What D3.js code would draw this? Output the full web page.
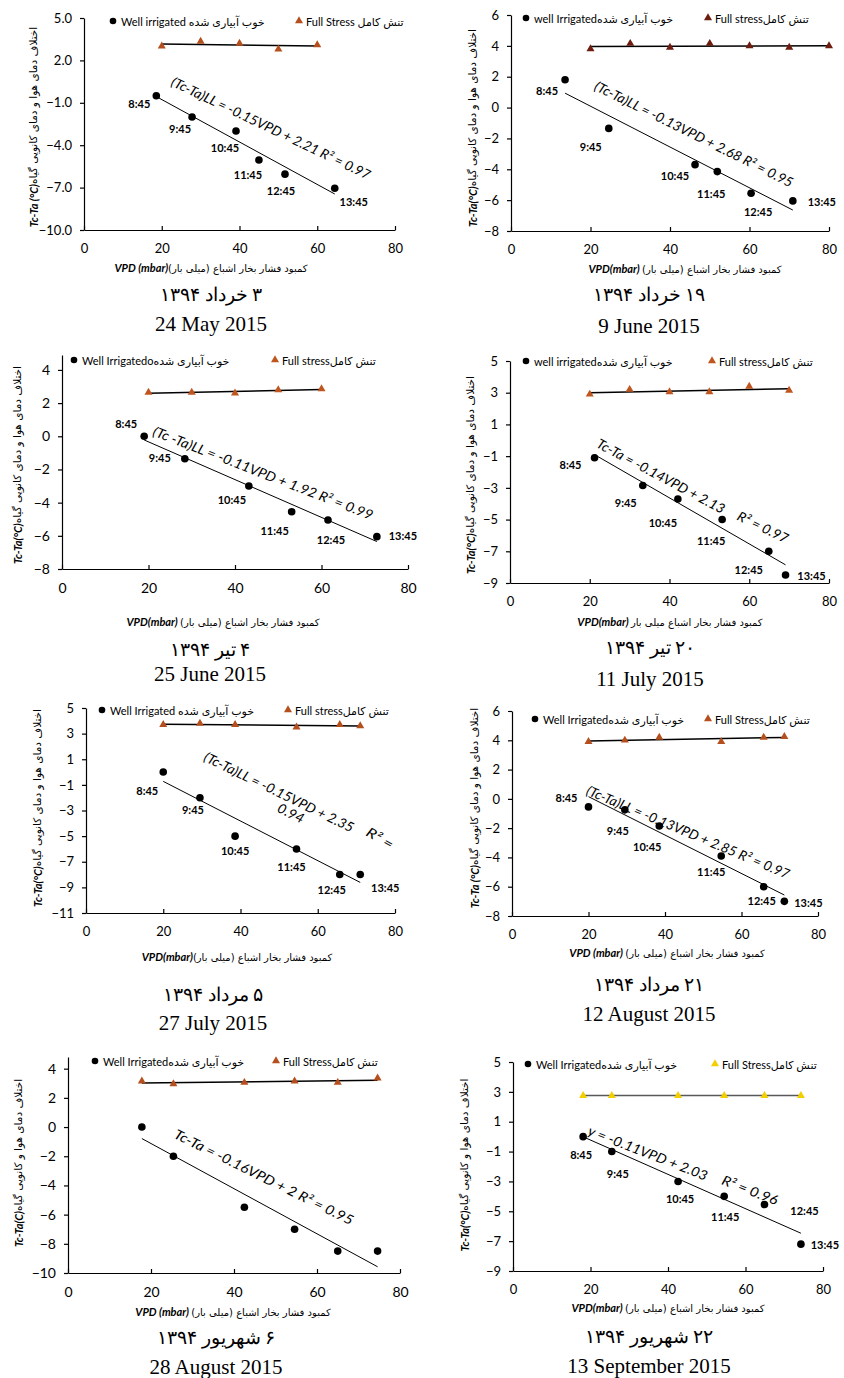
<!DOCTYPE html>
<html>
<head>
<meta charset="utf-8">
<script src="https://cdn.jsdelivr.net/npm/d3@7"></script>
<style>
  body { margin: 0; background: #fff; }
  svg { display: block; }
  text { font-family: Lato, "DejaVu Sans", sans-serif; fill: #000; }
  .fa { font-family: "DejaVu Sans", sans-serif; }
  .date { font-family: "Liberation Serif", "DejaVu Serif", serif; }
  .axis path, .axis line { stroke: #000; stroke-width: 1.2; }
</style>
</head>
<body>
<svg id="fig" width="844" height="1378"></svg>
<script>
'use strict';

// ---- data ----
var times = ['8:45', '9:45', '10:45', '11:45', '12:45', '13:45'];
var vpdTicks = [0, 20, 40, 60, 80];

// 24 May 2015
var vpdMay24 = [18.6, 27.8, 39.1, 45.0, 51.7, 64.5];
var tcMay24 = [-0.5, -2.0, -3.0, -5.05, -6.05, -7.05];
var stressVpdMay24 = [20, 30, 40, 50, 60];
var stressMay24 = [3.0, 3.35, 3.2, 2.8, 3.1];
// 9 June 2015
var vpdJun9 = [13.6, 24.6, 46.3, 51.9, 60.4, 70.9];
var tcJun9 = [1.8, -1.35, -3.7, -4.15, -5.55, -6.05];
var stressVpdJun9 = [20, 30, 40, 50, 60, 70, 80];
var stressJun9 = [3.8, 4.15, 3.9, 4.15, 4.0, 3.9, 4.0];
// 25 June 2015
var vpdJun25 = [19.0, 28.4, 43.2, 53.1, 61.5, 72.8];
var tcJun25 = [0, -1.35, -3.0, -4.55, -5.05, -6.05];
var stressVpdJun25 = [20, 30, 40, 50, 60];
var stressJun25 = [2.65, 2.65, 2.6, 2.8, 2.85];
// 11 July 2015
var vpdJul11 = [21.2, 33.3, 42.1, 53.2, 64.9, 69.1];
var tcJul11 = [-1.1, -2.85, -3.7, -5.0, -7.0, -8.5];
var stressVpdJul11 = [20, 30, 40, 50, 60, 70];
var stressJul11 = [2.9, 3.2, 3.05, 3.05, 3.4, 3.15];
// 27 July 2015
var vpdJul27 = [20.0, 29.5, 38.6, 54.5, 65.7, 71.0];
var tcJul27 = [0, -2, -5, -6, -8, -8];
var stressJul27 = [3.7, 3.8, 3.7, 3.5, 3.7, 3.6];
// 12 August 2015
var vpdAug12 = [20.0, 29.5, 38.5, 54.7, 65.8, 71.2];
var tcAug12 = [-0.55, -0.75, -1.85, -3.9, -6.0, -7.0];
var stressAug12 = [3.9, 4.0, 4.2, 3.9, 4.2, 4.25];
// 28 August 2015
var vpdAug28 = [17.8, 25.4, 42.5, 54.6, 65.0, 74.6];
var tcAug28 = [0, -2, -5.5, -7, -8.5, -8.5];
var stressAug28 = [3.15, 2.95, 3.05, 3.15, 3.05, 3.35];
// 13 September 2015
var vpdSep13 = [18.1, 25.5, 42.6, 54.5, 64.9, 74.3];
var tcSep13 = [0, -1, -3, -4, -4.55, -7.2];
var stressSep13 = [2.75, 2.75, 2.75, 2.75, 2.75, 2.75];

// ---- texts ----
var legendWell = ['Well irrigated خوب آبیاری شده', 'well Irrigatedخوب آبیاری شده', 'Well Irrigatedoخوب آبیاری شده',
  'well irrigatedخوب آبیاری شده', 'Well Irrigated خوب آبیاری شده', 'Well Irrigatedخوب آبیاری شده',
  'Well Irrigatedخوب آبیاری شده', 'Well Irrigatedخوب آبیاری شده'];
var legendStress = ['Full Stress تنش کامل', 'Full stressتنش کامل', 'Full stressتنش کامل', 'Full stressتنش کامل',
  'Full stressتنش کامل', 'Full Stressتنش کامل', 'Full Stressتنش کامل', 'Full Stressتنش کامل'];
var yTitleEn = ['Tc-Ta (°C)', 'Tc-Ta(°C)', 'Tc-Ta(°C)', 'Tc-Ta(°C)', 'Tc-Ta(°C)', 'Tc-Ta (°C)', 'Tc-Ta(C)', 'Tc-Ta(°C)'];
var yTitleFa = ['اختلاف دمای هوا و دمای کانوپی گیاه', 'اختلاف دمای هوا و دمای کانوپی گیاه', 'اختلاف دمای هوا و دمای کانوپی گیاه',
  'اختلاف دمای هوا و دمای کانوپی گیاه', 'اختلاف دمای هوا و دمای کانوپی گیاه', 'اختلاف دمای هوا و دمای کانوپی گیاه',
  'اختلاف دمای هوا و کانوپی گیاه', 'اختلاف دمای هوا و کانوپی گیاه'];
var xTitleEn = ['VPD (mbar)', 'VPD(mbar) ', 'VPD(mbar) ', 'VPD(mbar) ', 'VPD(mbar)', 'VPD (mbar) ', 'VPD (mbar) ', 'VPD(mbar) '];
var xTitleFa = ['کمبود فشار بخار اشباع (میلی بار)', 'کمبود فشار بخار اشباع (میلی بار)', 'کمبود فشار بخار اشباع (میلی بار)',
  'کمبود فشار بخار اشباع میلی بار', 'کمبود فشار بخار  اشباع (میلی بار)', 'کمبود فشار بخار اشباع (میلی بار)',
  'کمبود فشار بخار اشباع (میلی بار)', 'کمبود فشار بخار اشباع (میلی بار)'];
var datesFa = ['۳ خرداد ۱۳۹۴', '۱۹ خرداد ۱۳۹۴', '۴ تیر ۱۳۹۴', '۲۰ تیر ۱۳۹۴', '۵ مرداد ۱۳۹۴', '۲۱ مرداد ۱۳۹۴', '۶ شهریور ۱۳۹۴', '۲۲ شهریور ۱۳۹۴'];
var datesEn = ['24 May 2015', '9 June 2015', '25 June 2015', '11 July 2015', '27 July 2015', '12 August 2015', '28 August 2015', '13 September 2015'];
var equations = [
  ['(Tc-Ta)LL = -0.15VPD + 2.21  R² = 0.97'],
  ['(Tc-Ta)LL = -0.13VPD + 2.68  R² = 0.95'],
  ['(Tc -Ta)LL = -0.11VPD + 1.92 R² = 0.99'],
  ['Tc-Ta = -0.14VPD + 2.13', 'R² = 0.97'],
  ['(Tc-Ta)LL = -0.15VPD + 2.35', 'R² =', '0.94'],
  ['(Tc-Ta)LL = -0.13VPD + 2.85  R² = 0.97'],
  ['Tc-Ta = -0.16VPD + 2   R² = 0.95'],
  ['y = -0.11VPD + 2.03', 'R² = 0.96']
];

// ---- layout of each panel (pixels) ----
var panels = [
  {vpd: vpdMay24, tc: tcMay24, sVpd: stressVpdMay24, s: stressMay24,
   x0: 84, x1: 395, yr: [230, 18], yDom: [-10, 5], yTicks: [-10, -7, -4, -1, 2, 5], yFmt: '.1f', fs: 13,
   leg: [113, 21, 299], tri: '#b5501e',
   lab: [[-17, 8], [-12, 12], [-11, 16], [-11, 14], [-4, 16], [19, 13]],
   eq: [[271, 128, 25.6, 219]], yT: [33, 127], xT: [211, 272], dt: [211, 301, 331]},
  {vpd: vpdJun9, tc: tcJun9, sVpd: stressVpdJun9, s: stressJun9,
   x0: 511, x1: 829, yr: [231, 15], yDom: [-8, 6], yTicks: [-8, -6, -4, -2, 0, 2, 4, 6], yFmt: 'd', fs: 13,
   leg: [526, 18, 708], tri: '#6e1c10',
   lab: [[-18, 11], [-18, 18], [-20, 11], [-6, 22], [7, 18], [29, 1]],
   eq: [[694, 134, 26.5, 220]], yT: [472, 128], xT: [685, 273], dt: [649, 301, 333]},
  {vpd: vpdJun25, tc: tcJun25, sVpd: stressVpdJun25, s: stressJun25,
   x0: 62, x1: 408, yr: [569, 355], yDom: [-8, 4.9], yTicks: [-8, -6, -4, -2, 0, 2, 4], yFmt: 'd', fs: 14,
   leg: [74, 360, 275], tri: '#c0561f',
   lab: [[-18, -13], [-25, -1], [-17, 13], [-17, 19], [3, 19], [26, -1]],
   eq: [[263, 473, 21.2, 235]], yT: [17, 465], xT: [223, 626], dt: [210, 656, 681]},
  {vpd: vpdJul11, tc: tcJul11, sVpd: stressVpdJul11, s: stressJul11,
   x0: 510, x1: 829, yr: [583, 361], yDom: [-9, 5], yTicks: [-9, -7, -5, -3, -1, 1, 3, 5], yFmt: 'd', fs: 13,
   leg: [526, 361, 712], tri: '#c0561f',
   lab: [[-24, 7], [-17, 17], [-15, 24], [-11, 21], [-20, 18], [26, 0]],
   eq: [[661, 476, 28, 143], [763, 527, 26, 55]], yT: [470, 475], xT: [670, 626], dt: [650, 654, 686]},
  {vpd: vpdJul27, tc: tcJul27, sVpd: vpdJul27, s: stressJul27,
   x0: 86, x1: 395, yr: [913, 708], yDom: [-11, 5], yTicks: [-11, -9, -7, -5, -3, -1, 1, 3, 5], yFmt: 'd', fs: 13,
   leg: [102, 710, 288], tri: '#b5501e',
   lab: [[-16, 18], [-7, 12], [0, 14], [-5, 18], [-8, 15], [25, 13]],
   eq: [[279, 792, 26, 165], [380, 838, 30, 29], [291, 813, 26, 28]], yT: [37, 808], xT: [237, 961], dt: [213, 1001, 1030]},
  {vpd: vpdAug12, tc: tcAug12, sVpd: vpdAug12, s: stressAug12,
   x0: 512, x1: 818, yr: [916, 711], yDom: [-8, 6], yTicks: [-8, -6, -4, -2, 0, 2, 4, 6], yFmt: 'd', fs: 13,
   leg: [535, 719, 708], tri: '#b5501e',
   lab: [[-22, -9], [-7, 21], [-12, 21], [-10, 16], [-2, 14], [24, 1]],
   eq: [[688, 832, 22.8, 219]], yT: [474, 808], xT: [667, 957], dt: [649, 991, 1021]},
  {vpd: vpdAug28, tc: tcAug28, sVpd: vpdAug28, s: stressAug28,
   x0: 68, x1: 400, yr: [1273, 1057], yDom: [-10, 4.8], yTicks: [-10, -8, -6, -4, -2, 0, 2, 4], yFmt: 'd', fs: 14,
   leg: [95, 1061, 276], tri: '#b5501e',
   lab: null,
   eq: [[264, 1177, 26.3, 198]], yT: [18, 1163], xT: [233, 1316], dt: [216, 1344, 1374]},
  {vpd: vpdSep13, tc: tcSep13, sVpd: vpdSep13, s: stressSep13,
   x0: 513, x1: 823, yr: [1271, 1062], yDom: [-9, 5], yTicks: [-9, -7, -5, -3, -1, 1, 3, 5], yFmt: 'd', fs: 13,
   leg: [528, 1064, 715], tri: '#f2d000', sLine: '#595959',
   lab: [[-2, 18], [6, 22], [2, 17], [1, 20], [40, 6], [24, 0]],
   eq: [[648, 1153, 21.3, 127], [750, 1190, 21, 59]], yT: [464, 1165], xT: [668, 1312], dt: [649, 1343, 1373]}
];

var svg = d3.select('#fig');
var triangle = d3.symbol().type(d3.symbolTriangle).size(28);

// least squares trend line, like the spreadsheet trendline
function trend(xs, ys) {
  var mx = d3.mean(xs), my = d3.mean(ys), sxy = 0, sxx = 0;
  xs.forEach(function (x, i) { sxy += (x - mx) * (ys[i] - my); sxx += (x - mx) * (x - mx); });
  var b = sxy / sxx, a = my - b * mx;
  var lo = d3.min(xs), hi = d3.max(xs);
  return [[lo, a + b * lo], [hi, a + b * hi]];
}

panels.forEach(function (p, k) {
  var g = svg.append('g').attr('class', 'panel');
  var x = d3.scaleLinear().domain([0, 80]).range([p.x0, p.x1]);
  var y = d3.scaleLinear().domain(p.yDom).range(p.yr);

  // axes
  g.append('g').attr('class', 'axis').attr('transform', 'translate(' + p.x0 + ',0)')
    .call(d3.axisLeft(y).tickValues(p.yTicks).tickFormat(d3.format(p.yFmt)).tickSizeInner(4).tickSizeOuter(0).tickPadding(8));
  g.append('g').attr('class', 'axis').attr('transform', 'translate(0,' + p.yr[0] + ')')
    .call(d3.axisBottom(x).tickValues(vpdTicks).tickSizeInner(-4).tickSizeOuter(0).tickPadding(14));
  g.selectAll('.axis text').style('font-size', p.fs + 'px').style('font-family', 'Lato, sans-serif');

  var line = d3.line().x(function (d) { return x(d[0]); }).y(function (d) { return y(d[1]); });

  // full stress trend + markers
  g.append('path').attr('d', line(trend(p.sVpd, p.s)))
    .attr('fill', 'none').attr('stroke', p.sLine || '#000').attr('stroke-width', 1.5);
  g.selectAll('.tri').data(p.s).enter().append('path')
    .attr('class', 'tri')
    .attr('d', triangle)
    .attr('transform', function (d, i) { return 'translate(' + x(p.sVpd[i]) + ',' + y(d) + ')'; })
    .attr('fill', p.tri);

  // well irrigated trend + markers
  g.append('path').attr('d', line(trend(p.vpd, p.tc)))
    .attr('fill', 'none').attr('stroke', '#000').attr('stroke-width', 1);
  g.selectAll('.dot').data(p.tc).enter().append('circle')
    .attr('class', 'dot')
    .attr('cx', function (d, i) { return x(p.vpd[i]); })
    .attr('cy', function (d) { return y(d); })
    .attr('r', 3.8).attr('fill', '#000');

  if (p.lab) {
    g.selectAll('.tlab').data(p.tc).enter().append('text')
      .attr('class', 'tlab')
      .attr('x', function (d, i) { return x(p.vpd[i]) + p.lab[i][0]; })
      .attr('y', function (d, i) { return y(d) + p.lab[i][1]; })
      .attr('text-anchor', 'middle').attr('dominant-baseline', 'central')
      .style('font-size', '11px').style('font-weight', 'bold')
      .text(function (d, i) { return times[i]; });
  }

  // regression equations
  equations[k].forEach(function (t, j) {
    var e = p.eq[j];
    g.append('text')
      .attr('transform', 'translate(' + e[0] + ',' + e[1] + ') rotate(' + e[2] + ')')
      .attr('text-anchor', 'middle').attr('dominant-baseline', 'central')
      .attr('textLength', e[3]).attr('lengthAdjust', 'spacingAndGlyphs')
      .style('font-size', '13.5px').style('font-style', 'italic')
      .text(t);
  });

  // legend
  var lg = g.append('g');
  lg.append('circle').attr('cx', p.leg[0]).attr('cy', p.leg[1]).attr('r', 3.3).attr('fill', '#000');
  lg.append('text').attr('x', p.leg[0] + 8).attr('y', p.leg[1]).attr('dominant-baseline', 'central')
    .style('font-size', '11px').text(legendWell[k]);
  lg.append('path').attr('d', triangle).attr('transform', 'translate(' + p.leg[2] + ',' + p.leg[1] + ')').attr('fill', p.tri);
  lg.append('text').attr('x', p.leg[2] + 7).attr('y', p.leg[1]).attr('dominant-baseline', 'central')
    .style('font-size', '11px').text(legendStress[k]);

  // axis titles
  var yt = g.append('text')
    .attr('transform', 'translate(' + p.yT[0] + ',' + p.yT[1] + ') rotate(-90)')
    .attr('text-anchor', 'middle').attr('dominant-baseline', 'central')
    .style('font-size', '10.5px');
  yt.append('tspan').style('font-style', 'italic').style('font-weight', 'bold').style('font-size', '11px').text(yTitleEn[k]);
  yt.append('tspan').attr('class', 'fa').text(yTitleFa[k]);

  var xt = g.append('text')
    .attr('x', p.xT[0]).attr('y', p.xT[1])
    .attr('text-anchor', 'middle')
    .style('font-size', '10px');
  xt.append('tspan').style('font-style', 'italic').style('font-weight', 'bold').style('font-size', '11px').text(xTitleEn[k]);
  xt.append('tspan').attr('class', 'fa').text(xTitleFa[k]);

  // dates
  g.append('text').attr('class', 'date').attr('x', p.dt[0]).attr('y', p.dt[1])
    .attr('direction', 'rtl').attr('unicode-bidi', 'embed')
    .attr('text-anchor', 'middle').style('font-size', '18.5px').text(datesFa[k]);
  g.append('text').attr('class', 'date').attr('x', p.dt[0]).attr('y', p.dt[2])
    .attr('text-anchor', 'middle').style('font-size', '21px').text(datesEn[k]);
});
</script>
</body>
</html>
